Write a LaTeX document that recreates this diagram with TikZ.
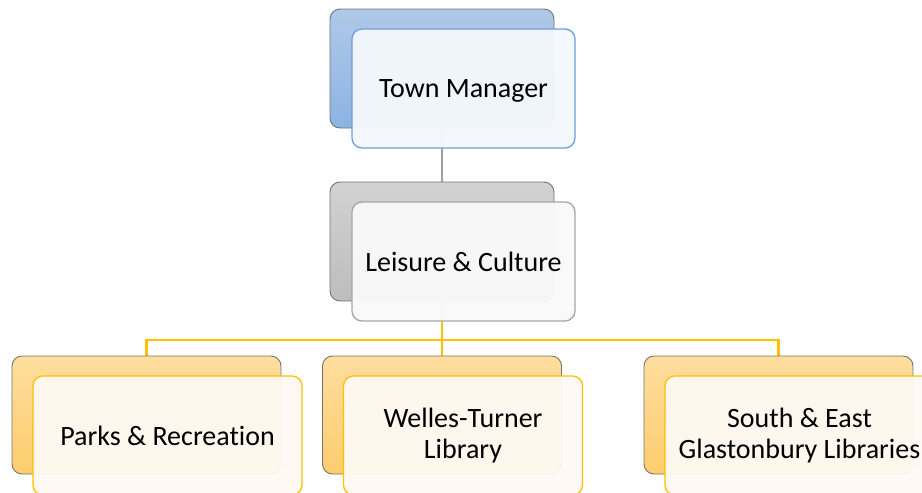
\documentclass[tikz,border=0pt]{standalone}
\usepackage{fontspec}
\setmainfont{Carlito}[Ligatures=NoCommon]
\pgfdeclarelayer{bg}
\pgfsetlayers{bg,main}
\definecolor{blueTop}{HTML}{B0C9E8}
\definecolor{blueBot}{HTML}{8DB3E2}
\definecolor{blueFront}{HTML}{F4F7FC}
\definecolor{blueEdge}{HTML}{6A9FDB}
\definecolor{grayTop}{HTML}{D2D2D2}
\definecolor{grayBot}{HTML}{BDBDBD}
\definecolor{grayFront}{HTML}{F9F9F9}
\definecolor{grayEdge}{HTML}{A6A6A6}
\definecolor{orTop}{HTML}{FEDD9E}
\definecolor{orBot}{HTML}{FDCD6E}
\definecolor{orFront}{HTML}{FEF9F2}
\definecolor{orEdge}{HTML}{FFC000}
\definecolor{lineGray}{HTML}{A0A0A0}
\begin{document}
\begin{tikzpicture}[x=1pt,y=-1pt,
  backbox/.style={draw=black!55, line width=0.9pt, rounded corners=10pt, inner sep=0pt},
  frontbox/.style={line width=1.3pt, rounded corners=10pt, fill opacity=0.96, text opacity=1,
    inner sep=0pt, align=center, font=\fontsize{28}{31.5}\selectfont},
  bluebk/.style={backbox, top color=blueTop, bottom color=blueBot},
  graybk/.style={backbox, top color=grayTop, bottom color=grayBot},
  orbk/.style={backbox, top color=orTop, bottom color=orBot},
  bluefr/.style={frontbox, draw=blueEdge, fill=blueFront},
  grayfr/.style={frontbox, draw=grayEdge, fill=grayFront},
  orfr/.style={frontbox, draw=orEdge, fill=orFront},
  gline/.style={draw=lineGray, line width=2pt},
  yline/.style={draw=orEdge, line width=2.6pt}
]
\useasboundingbox (0,0) rectangle (922,493);
\clip (0,0) rectangle (922,493);

% top level
\node[bluebk, minimum width=224pt, minimum height=119pt] (tmB) at (442,68.5) {};
\node[bluefr, minimum width=223pt, minimum height=119pt] (tmF) at (463.5,88.5)
  {\raisebox{0pt}[\height][0pt]{Town Manager}};

% middle level
\node[graybk, minimum width=224pt, minimum height=119pt] (lcB) at (442,241.5) {};
\node[grayfr, minimum width=223pt, minimum height=119pt] (lcF) at (463.5,261.5) {Leisure \& Culture};

% bottom level
\node[orbk, minimum width=269pt, minimum height=118pt] (prB) at (146.5,415) {};
\node[orfr, minimum width=269pt, minimum height=119pt] (prF) at (167.5,435.5) {Parks \& Recreation};

\node[orbk, minimum width=239pt, minimum height=118pt] (wtB) at (442,415) {};
\node[orfr, minimum width=239pt, minimum height=119pt] (wtF) at (463,435.5) {Welles-Turner\\Library};

\node[orbk, minimum width=269pt, minimum height=118pt] (seB) at (778.5,415) {};
\node[orfr, minimum width=269pt, minimum height=119pt] (seF) at (799.5,435.5) {South \& East\\Glastonbury Libraries};

\coordinate (bus) at (442,340);

\begin{pgfonlayer}{bg}
\draw[gline] (tmB.south) -- (lcB.north);
\draw[yline] (lcB.south) -- (bus);
\draw[yline] (bus) -| (prB.north);
\draw[yline] (bus) -- (wtB.north);
\draw[yline] (bus) -| (seB.north);
\end{pgfonlayer}
\end{tikzpicture}
\end{document}
